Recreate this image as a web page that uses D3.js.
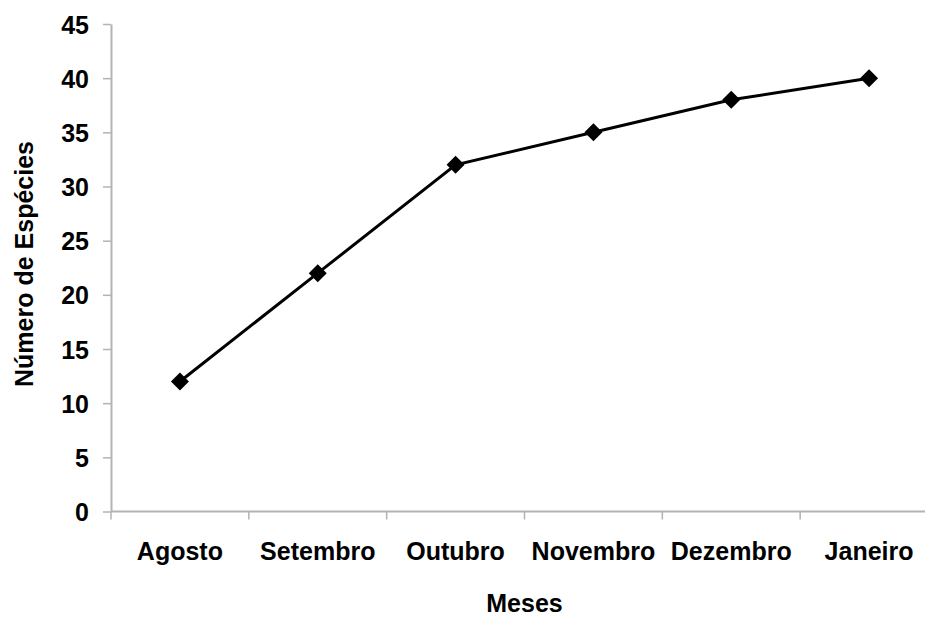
<!DOCTYPE html>
<html>
<head>
<meta charset="utf-8">
<script src="https://cdn.jsdelivr.net/npm/d3@7"></script>
<style>
  html, body { margin: 0; padding: 0; background: #fff; }
  svg { display: block; font-family: Arial, "Liberation Sans", sans-serif; }
</style>
</head>
<body>
<svg id="chart" width="925" height="617"></svg>
<script>
// Species accumulation per month
const months = ["Agosto", "Setembro", "Outubro", "Novembro", "Dezembro", "Janeiro"];
const species = [12, 22, 32, 35, 38, 40];
const yTicks = [0, 5, 10, 15, 20, 25, 30, 35, 40, 45];

const svg = d3.select("#chart");
const plotLeft = 111, plotRight = 938, plotTop = 24, plotBottom = 511.5;
const fontSize = "25px";

const x = d3.scaleBand().domain(months).range([plotLeft, plotRight]);
const y = d3.scaleLinear().domain([0, 45]).range([plotBottom, plotTop]);

const axisColor = "#b3b3b3";

// Y axis
const yAxis = svg.append("g")
  .attr("transform", `translate(${plotLeft},0)`)
  .call(d3.axisLeft(y).tickValues(yTicks).tickSize(8).tickPadding(14).tickSizeOuter(0));
yAxis.select(".domain").attr("stroke", axisColor).attr("stroke-width", 2);
yAxis.selectAll(".tick line").attr("stroke", axisColor).attr("stroke-width", 1.5);
yAxis.selectAll(".tick text")
  .attr("fill", "#000").style("font-size", fontSize).style("font-weight", "bold")
  .attr("dy", "0.36em");

// X axis with tick marks on category boundaries
const xAxis = svg.append("g")
  .attr("transform", `translate(0,${plotBottom})`);
xAxis.append("line")
  .attr("x1", plotLeft).attr("x2", plotRight).attr("y1", 0).attr("y2", 0)
  .attr("stroke", axisColor).attr("stroke-width", 2);
xAxis.selectAll(".bound")
  .data(months)
  .enter().append("line")
  .attr("class", "bound")
  .attr("x1", d => x(d)).attr("x2", d => x(d))
  .attr("y1", 0).attr("y2", 8)
  .attr("stroke", axisColor).attr("stroke-width", 1.5);
xAxis.selectAll(".lbl")
  .data(months)
  .enter().append("text")
  .attr("class", "lbl")
  .attr("x", d => x(d) + x.bandwidth() / 2)
  .attr("y", 48)
  .attr("text-anchor", "middle")
  .style("font-size", fontSize).style("font-weight", "bold")
  .text(d => d);

// Axis titles
svg.append("text")
  .attr("x", (plotLeft + plotRight) / 2).attr("y", 612)
  .attr("text-anchor", "middle")
  .style("font-size", fontSize).style("font-weight", "bold")
  .text("Meses");
svg.append("text")
  .attr("transform", `translate(33,264) rotate(-90)`)
  .attr("text-anchor", "middle")
  .style("font-size", fontSize).style("font-weight", "bold")
  .text("Número de Espécies");

// Line
const pts = months.map((m, i) => [x(m) + x.bandwidth() / 2, y(species[i])]);
svg.append("path")
  .attr("d", d3.line()(pts))
  .attr("fill", "none").attr("stroke", "#000").attr("stroke-width", 3);

// Diamond markers
svg.selectAll(".mk")
  .data(pts)
  .enter().append("path")
  .attr("class", "mk")
  .attr("transform", d => `translate(${d[0]},${d[1]})`)
  .attr("d", "M0,-9L9,0L0,9L-9,0Z")
  .attr("fill", "#000");
</script>
</body>
</html>
